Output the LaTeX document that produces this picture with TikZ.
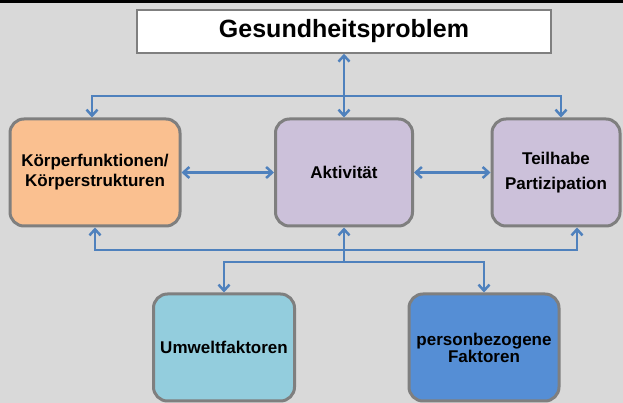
\documentclass[tikz,border=0pt]{standalone}
\usepackage{fontspec}
\setmainfont{Liberation Sans}
\usetikzlibrary{shapes.geometric, arrows.meta}
\definecolor{hintergrund}{HTML}{D9D9D9}
\definecolor{rahmen}{HTML}{7F7F7F}
\definecolor{pfeilblau}{HTML}{4F81BD}
\definecolor{apricotFill}{HTML}{FAC090}
\definecolor{lavenderFill}{HTML}{CCC1DA}
\definecolor{skyFill}{HTML}{93CDDD}
\definecolor{royalFill}{HTML}{558ED5}
\tikzstyle{whiteBox} = [rectangle, minimum width=414bp, minimum height=43bp, text centered, draw=rahmen, line width=1.5bp, fill=white, font=\bfseries\fontsize{25bp}{30bp}\selectfont]
\tikzstyle{apricot} = [rectangle, rounded corners=14bp, minimum height=107bp, text centered, align=center, draw=rahmen, line width=3bp, fill=apricotFill, font=\bfseries\fontsize{17bp}{20bp}\selectfont]
\tikzstyle{lavender} = [rectangle, rounded corners=14bp, minimum height=107bp, text centered, align=center, draw=rahmen, line width=3bp, fill=lavenderFill, font=\bfseries\fontsize{17bp}{20bp}\selectfont]
\tikzstyle{skyBlue} = [rectangle, rounded corners=14bp, minimum height=107bp, text centered, align=center, draw=rahmen, line width=3bp, fill=skyFill, font=\bfseries\fontsize{17bp}{20bp}\selectfont]
\tikzstyle{royalBlue} = [rectangle, rounded corners=14bp, minimum height=107bp, text centered, align=center, draw=rahmen, line width=3bp, fill=royalFill, font=\bfseries\fontsize{17bp}{20bp}\selectfont]
\tikzstyle{line} = [draw=pfeilblau, line width=2.5bp]
\tikzstyle{arrow} = [line, ->, >={Straight Barb[length=6bp,width=11bp]}]
\begin{document}
\begin{tikzpicture}[node distance=141bp]

% Background and top rule
\useasboundingbox (0,0) rectangle (623bp,403bp);
\fill[hintergrund] (0,0) rectangle (623bp,403bp);
\fill[black] (0,400bp) rectangle (623bp,403bp);

% Row 1 - Health problem
\node (gesund) [whiteBox] at (344bp,371.5bp) {Gesundheitsproblem};

% Row 2 - Components of functioning
\node (aktiv) [lavender, minimum width=137bp, below of=gesund] {Aktivität};
\node (koerper) [apricot, minimum width=170bp, left of=aktiv, xshift=-108bp] {Körperfunktionen/\\Körperstrukturen};
\node (teilhabe) [lavender, minimum width=128bp, right of=aktiv, xshift=71bp] {Teilhabe\\[5bp]Partizipation};

% Row 3 - Context factors
\node (umwelt) [skyBlue, minimum width=141bp, below of=aktiv, yshift=-34bp, xshift=-120bp] {Umweltfaktoren};
\node (person) [royalBlue, minimum width=150bp, below of=aktiv, yshift=-34bp, xshift=140bp] {personbezogene\\[-3bp]Faktoren};

% Branch points
\coordinate (oben) at (344bp,307bp);
\coordinate (unten) at (344bp,153bp);
\coordinate (knoten) at (344bp,141bp);

% Row 1 - Arrows
\draw [arrow, <->] (gesund) -- (aktiv);
\draw [arrow] (oben) -| ([xshift=-3bp]koerper.north);
\draw [arrow] (oben) -| ([xshift=5bp]teilhabe.north);

% Row 2 - Arrows
\draw [arrow, <->] (koerper) -- (aktiv);
\draw [arrow, <->] (aktiv) -- (teilhabe);
\draw [arrow] (unten) -| (koerper.south);
\draw [arrow] (unten) -- (aktiv.south);
\draw [arrow] (unten) -| ([xshift=21bp]teilhabe.south);

% Row 3 - Arrows
\draw [line] (unten) -- (knoten);
\draw [arrow] (knoten) -| (umwelt.north);
\draw [arrow] (knoten) -| (person.north);

\end{tikzpicture}
\end{document}
